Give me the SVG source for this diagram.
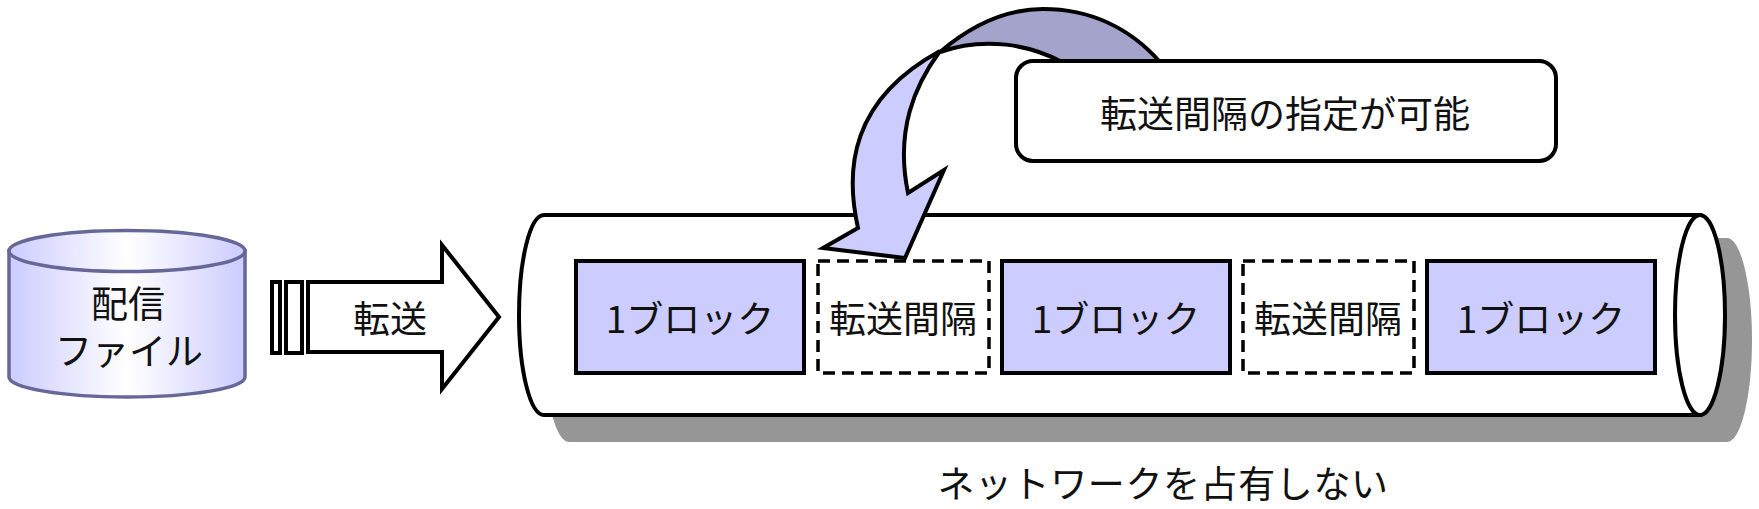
<svg xmlns="http://www.w3.org/2000/svg" width="1759" height="509" viewBox="0 0 1759 509">
<style>
text{font-family:"Noto Sans CJK JP","Noto Sans",sans-serif;font-size:37px;fill:#111;text-anchor:middle}
.o{fill:#fff;stroke:#000;stroke-width:4;stroke-linejoin:miter}
.b{fill:#ccf;stroke:#000;stroke-width:4}
.d{fill:#fff;stroke:#000;stroke-width:3.5;stroke-dasharray:12 7}
</style>
<defs>
<linearGradient id="g" x1="0" x2="1" y1="0" y2="0"><stop offset="0" stop-color="#ccf"/><stop offset=".5" stop-color="#fff"/><stop offset="1" stop-color="#ccf"/></linearGradient>
</defs>
<rect width="1759" height="509" fill="#fff"/>
<g id="file">
<path d="M9 251V377C9 388 62 397 127 397S245 388 245 377V251Z" fill="url(#g)" stroke="#669" stroke-width="3.5"/>
<ellipse cx="127" cy="251" rx="118" ry="20.5" fill="url(#g)" stroke="#669" stroke-width="3.5"/>
<text><tspan x="128" y="318">配信</tspan><tspan x="129" y="365">ファイル</tspan></text>
</g>
<g id="connectors">
<rect class="o" x="272" y="282" width="8" height="71"/>
<rect class="o" x="286" y="282" width="16" height="71"/>
<path id="transfer" class="o" d="M308 282H442V245L499 317L442 389V352H308Z"/>
<text x="390" y="333">転送</text>
</g>
<g id="network">
<path d="M569 238H1727C1741 238 1752 285 1752 340S1741 442 1727 442H569C555 442 544 395 544 340S555 238 569 238Z" fill="#969696"/>
<path class="o" d="M544 215H1700V415H544C530 415 519 370 519 315S530 215 544 215Z"/>
<ellipse class="o" cx="1700" cy="315" rx="25" ry="100"/>
</g>
<g id="block1"><rect class="b" x="576" y="261" width="228" height="112"/><text x="690" y="333">1ブロック</text></g>
<g id="gap1"><rect class="d" x="818" y="261" width="171" height="112"/><text x="903" y="333">転送間隔</text></g>
<g id="block2"><rect class="b" x="1002" y="261" width="228" height="112"/><text x="1116" y="333">1ブロック</text></g>
<g id="gap2"><rect class="d" x="1243" y="261" width="171" height="112"/><text x="1328" y="333">転送間隔</text></g>
<g id="block3"><rect class="b" x="1427" y="261" width="228" height="112"/><text x="1541" y="333">1ブロック</text></g>
<g id="curved-arrow">
<path d="M940 52C975 22 1010 9 1043 9C1090 9 1130 28 1160 62H1062C1030 45 985 36 940 52Z" fill="#a3a3cc" stroke="#000" stroke-width="4"/>
<path d="M858 228C845 170 850 100 940 51C915 85 895 130 908 193L944 170L905 258L823 248Z" fill="#ccf" stroke="#000" stroke-width="4"/>
</g>
<g id="callout"><rect class="o" x="1016" y="61" width="540" height="100" rx="17"/><text x="1285" y="128">転送間隔の指定が可能</text></g>
<text id="note" x="1163" y="498" style="letter-spacing:.6px">ネットワークを占有しない</text>
</svg>
